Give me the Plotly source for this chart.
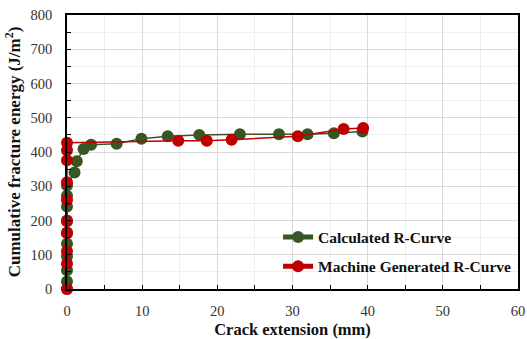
import plotly.graph_objects as go

# Calculated R-Curve
calc_x = [0, 0, 0, 0, 0, 0, 0, 0, 0, 0, 1.0, 1.3, 2.2, 3.2, 6.6, 9.9, 13.4, 17.6, 23.0, 28.2, 32.0, 35.5, 39.3]
calc_y = [0, 22, 55, 95, 132, 165, 200, 241, 272, 302, 340, 373, 409, 421, 424, 439, 446, 450, 452, 452, 452, 455, 460]

# Machine Generated R-Curve
mach_x = [0, 0, 0, 0, 0, 0, 0, 0, 0, 0, 14.8, 18.6, 21.9, 30.7, 36.8, 39.4]
mach_y = [0, 74, 110, 163, 198, 260, 312, 376, 405, 427, 433, 433, 436, 446, 467, 470]

green = "#375623"
red = "#C00000"
serif = "Liberation Serif, Times New Roman, serif"

fig = go.Figure()
fig.add_trace(go.Scatter(x=calc_x, y=calc_y, mode="lines+markers", name="Calculated R-Curve",
                         legendgroup="a", cliponaxis=False,
                         line=dict(color=green, width=1.5),
                         marker=dict(color=green, size=12)))
fig.add_trace(go.Scatter(x=mach_x, y=mach_y, mode="lines+markers", name="Machine Generated R-Curve",
                         legendgroup="b", cliponaxis=False,
                         line=dict(color=red, width=1.5),
                         marker=dict(color=red, size=12)))

fig.update_layout(
    width=527, height=339,
    margin=dict(l=67, r=9, t=15, b=50, autoexpand=False),
    paper_bgcolor="white", plot_bgcolor="white",
    font=dict(family=serif, size=14, color="#333333"),
    legend=dict(x=0.468, y=0.25, xanchor="left", yanchor="top",
                bgcolor="rgba(255,255,255,0)", borderwidth=0,
                font=dict(family=serif, size=15.5, color="#111111", weight="bold"),
                traceorder="grouped", tracegroupgap=6, itemsizing="constant", itemwidth=30),
    showlegend=True,
)
fig.update_xaxes(
    range=[0, 60], dtick=10, tick0=0, automargin=False,
    showline=True, linecolor="black", linewidth=1.5, mirror=True,
    showgrid=True, gridcolor="#d9d9d9", gridwidth=1,
    ticks="inside", ticklen=4, tickcolor="black",
    minor=dict(dtick=5, showgrid=True, gridcolor="#eeeeee", ticks="inside", ticklen=4, tickcolor="black"),
    zeroline=False, ticklabelstandoff=8,
    tickfont=dict(family=serif, size=14.5, color="#333333"),
    title=dict(text="Crack extension (mm)", standoff=6,
               font=dict(family=serif, size=16.5, color="#111111", weight="bold")),
)
fig.update_yaxes(
    range=[0, 800], dtick=100, tick0=0, automargin=False,
    showline=True, linecolor="black", linewidth=1.5, mirror=True,
    showgrid=True, gridcolor="#d9d9d9", gridwidth=1,
    ticks="inside", ticklen=4, tickcolor="black",
    minor=dict(dtick=50, showgrid=True, gridcolor="#eeeeee", ticks="inside", ticklen=4, tickcolor="black"),
    zeroline=False, ticklabelstandoff=10,
    tickfont=dict(family=serif, size=14.5, color="#333333"),
    title=dict(text="Cumulative fracture energy (J/m<sup>2</sup>)", standoff=6,
               font=dict(family=serif, size=17, color="#111111", weight="bold")),
)

fig.write_html("out.html")
